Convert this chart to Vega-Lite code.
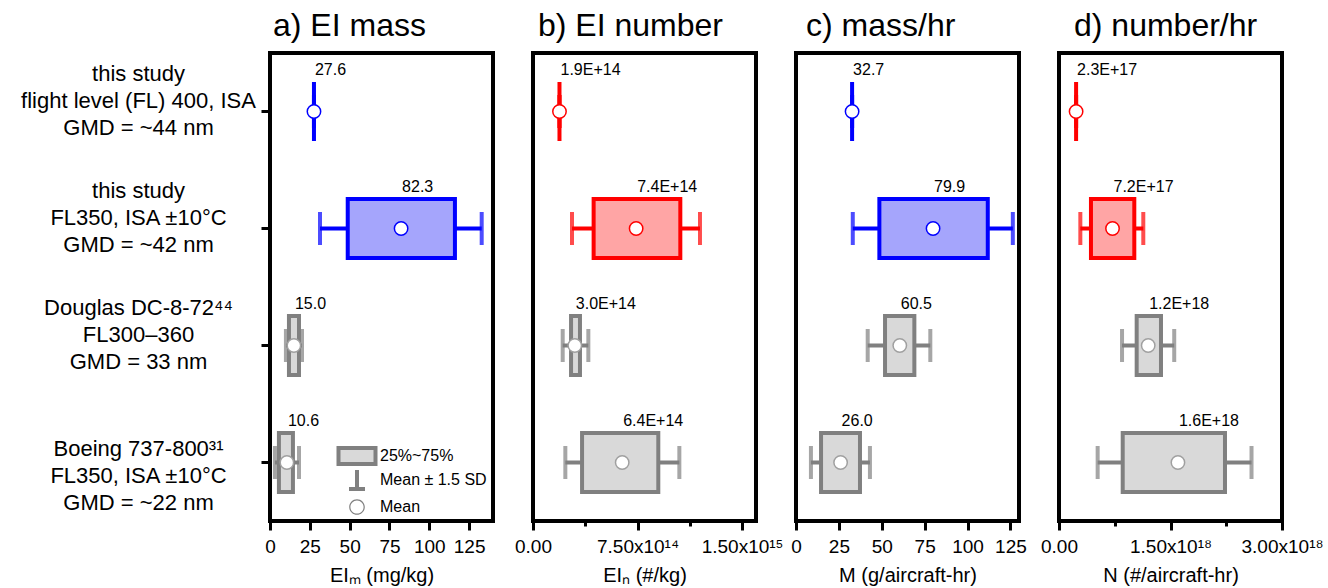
{
"$schema":"https://vega.github.io/schema/vega-lite/v6.json",
"background":"white",
"padding":{"left":18,"top":8,"right":0,"bottom":0},
"config":{
 "font":"Liberation Sans",
 "view":{"stroke":"black","strokeWidth":4},
 "axis":{"domain":false,"grid":false,"tickColor":"black","tickWidth":3,"tickSize":8,"labelColor":"black","titleColor":"black","labelFontSize":19,"titleFontSize":20,"titleFontWeight":"normal","labelFlush":false,"labelOverlap":false,"labelPadding":7,"titlePadding":9,"labelFont":"Liberation Sans","titleFont":"Liberation Sans"},
 "title":{"fontSize":32,"fontWeight":"normal","color":"black","anchor":"start","frame":"group","font":"Liberation Sans","offset":10}
},
"datasets":{
 "box":[
  {"panel":"a","row":"this study|flight level (FL) 400, ISA|GMD = ~44 nm","study":"this","mean":27.6,"q1":27.6,"q3":27.6,"lo":27.6,"hi":27.6,"label":"27.6"},
  {"panel":"a","row":"this study|FL350, ISA ±10°C|GMD = ~42 nm","study":"this","mean":82.3,"q1":48.8,"q3":116.1,"lo":31.4,"hi":132.9,"label":"82.3"},
  {"panel":"a","row":"Douglas DC-8-72⁴⁴|FL300–360|GMD =  33 nm","study":"lit","mean":15.0,"q1":11.9,"q3":18.2,"lo":10.0,"hi":20.1,"label":"15.0"},
  {"panel":"a","row":"Boeing 737-800³¹|FL350, ISA ±10°C|GMD =  ~22 nm","study":"lit","mean":10.6,"q1":5.6,"q3":14.4,"lo":3.1,"hi":18.2,"label":"10.6"},
  {"panel":"b","row":"this study|flight level (FL) 400, ISA|GMD = ~44 nm","study":"this","mean":1.9e14,"q1":1.9e14,"q3":1.9e14,"lo":1.9e14,"hi":1.9e14,"label":"1.9E+14"},
  {"panel":"b","row":"this study|FL350, ISA ±10°C|GMD = ~42 nm","study":"this","mean":7.4e14,"q1":4.35e14,"q3":10.57e14,"lo":2.8e14,"hi":11.98e14,"label":"7.4E+14"},
  {"panel":"b","row":"Douglas DC-8-72⁴⁴|FL300–360|GMD =  33 nm","study":"lit","mean":3.0e14,"q1":2.73e14,"q3":3.37e14,"lo":2.13e14,"hi":3.97e14,"label":"3.0E+14"},
  {"panel":"b","row":"Boeing 737-800³¹|FL350, ISA ±10°C|GMD =  ~22 nm","study":"lit","mean":6.4e14,"q1":3.52e14,"q3":8.99e14,"lo":2.32e14,"hi":10.5e14,"label":"6.4E+14"},
  {"panel":"c","row":"this study|flight level (FL) 400, ISA|GMD = ~44 nm","study":"this","mean":32.7,"q1":32.7,"q3":32.7,"lo":32.7,"hi":32.7,"label":"32.7"},
  {"panel":"c","row":"this study|FL350, ISA ±10°C|GMD = ~42 nm","study":"this","mean":79.9,"q1":48.6,"q3":111.8,"lo":33.1,"hi":126.4,"label":"79.9"},
  {"panel":"c","row":"Douglas DC-8-72⁴⁴|FL300–360|GMD =  33 nm","study":"lit","mean":60.5,"q1":51.9,"q3":69.0,"lo":41.8,"hi":78.3,"label":"60.5"},
  {"panel":"c","row":"Boeing 737-800³¹|FL350, ISA ±10°C|GMD =  ~22 nm","study":"lit","mean":26.0,"q1":14.6,"q3":37.3,"lo":8.7,"hi":43.1,"label":"26.0"},
  {"panel":"d","row":"this study|flight level (FL) 400, ISA|GMD = ~44 nm","study":"this","mean":2.3e17,"q1":2.3e17,"q3":2.3e17,"lo":2.3e17,"hi":2.3e17,"label":"2.3E+17"},
  {"panel":"d","row":"this study|FL350, ISA ±10°C|GMD = ~42 nm","study":"this","mean":7.2e17,"q1":4.3e17,"q3":10.13e17,"lo":2.87e17,"hi":11.34e17,"label":"7.2E+17"},
  {"panel":"d","row":"Douglas DC-8-72⁴⁴|FL300–360|GMD =  33 nm","study":"lit","mean":1.2e18,"q1":10.45e17,"q3":13.72e17,"lo":8.48e17,"hi":15.5e17,"label":"1.2E+18"},
  {"panel":"d","row":"Boeing 737-800³¹|FL350, ISA ±10°C|GMD =  ~22 nm","study":"lit","mean":1.6e18,"q1":8.57e17,"q3":22.33e17,"lo":5.2e17,"hi":25.9e17,"label":"1.6E+18"}
 ],
 "leg":[{"item":"25%~75%"},{"item":"Mean ± 1.5 SD"},{"item":"Mean"}]
},
"spacing":40,
"bounds":"flush",
"resolve":{"scale":{"x":"independent","y":"independent"},"axis":{"x":"independent","y":"independent"}},
"hconcat":[
 {
  "width":223,"height":468,
  "title":{"text":"a) EI mass","dx":3},
  "layer":[
   {"data":{"name":"box"},"transform":[{"filter":"datum.panel == 'a'"}],
    "mark":{"type":"rule","strokeWidth":4},
    "encoding":{
     "x":{"field":"lo","type":"quantitative","title":"EIₘ (mg/kg)","scale":{"domain":[0,140],"nice":false,"zero":false},
      "axis":{"values":[0,12.5,25,37.5,50,62.5,75,87.5,100,112.5,125,137.5],"labelExpr":"datum.value % 25 == 0 ? datum.label : ''","tickSize":{"condition":{"test":"datum.value % 25 == 0","value":9},"value":5}}},
     "x2":{"field":"hi"},
     "y":{"field":"row","type":"nominal","scale":{"domain":["this study|flight level (FL) 400, ISA|GMD = ~44 nm","this study|FL350, ISA ±10°C|GMD = ~42 nm","Douglas DC-8-72⁴⁴|FL300–360|GMD =  33 nm","Boeing 737-800³¹|FL350, ISA ±10°C|GMD =  ~22 nm"],"paddingInner":0,"paddingOuter":0},
      "axis":{"title":null,"labelExpr":"split(datum.value, '|')","labelAlign":"center","labelBaseline":"middle","labelPadding":123,"labelLineHeight":27,"labelFontSize":22,"labelLimit":0,"tickSize":9,"tickWidth":3,"labelOffset":{"condition":{"test":"indexof(datum.value, 'Boeing') >= 0","value":-14},"value":-38}}},
     "color":{"condition":{"test":"datum.study == 'this'","value":"#0000ff"},"value":"#808080"}}},
   {"data":{"name":"box"},"transform":[{"filter":"datum.panel == 'a'"}],
    "mark":{"type":"tick","size":33,"thickness":4},
    "encoding":{"x":{"field":"lo","type":"quantitative"},"y":{"field":"row","type":"nominal"},
     "color":{"condition":{"test":"datum.study == 'this'","value":"#0000ff"},"value":"#808080"}}},
   {"data":{"name":"box"},"transform":[{"filter":"datum.panel == 'a'"}],
    "mark":{"type":"tick","size":33,"thickness":4},
    "encoding":{"x":{"field":"hi","type":"quantitative"},"y":{"field":"row","type":"nominal"},
     "color":{"condition":{"test":"datum.study == 'this'","value":"#0000ff"},"value":"#808080"}}},
   {"data":{"name":"box"},"transform":[{"filter":"datum.panel == 'a'"}],
    "mark":{"type":"bar","size":59,"strokeWidth":4},
    "encoding":{"x":{"field":"q1","type":"quantitative"},"x2":{"field":"q3"},"y":{"field":"row","type":"nominal"},
     "fill":{"condition":{"test":"datum.study == 'this'","value":"#a5a5fc"},"value":"#d9d9d9"},
     "stroke":{"condition":{"test":"datum.study == 'this'","value":"#0000ff"},"value":"#808080"}}},
   {"data":{"name":"box"},"transform":[{"filter":"datum.panel == 'a'"}],
    "mark":{"type":"point","filled":true,"fill":"white","size":180,"strokeWidth":1.5,"opacity":1},
    "encoding":{"x":{"field":"mean","type":"quantitative"},"y":{"field":"row","type":"nominal"},
     "stroke":{"condition":{"test":"datum.study == 'this'","value":"#0000ff"},"value":"#a0a0a0"}}},
   {"data":{"name":"box"},"transform":[{"filter":"datum.panel == 'a'"}],
    "mark":{"type":"text","align":"left","baseline":"middle","dx":1,"dy":-42,"fontSize":16,"color":"black"},
    "encoding":{"x":{"field":"mean","type":"quantitative"},"y":{"field":"row","type":"nominal"},"text":{"field":"label"}}},
   {"data":{"name":"leg"},
    "mark":{"type":"point","opacity":0,"filled":true},
    "encoding":{
     "shape":{"field":"item","type":"nominal","scale":{"domain":["25%~75%","Mean ± 1.5 SD","Mean"],"range":["M-3.7,-1.6H3.7V1.6H-3.7Z","M-0.4,-2.0H0.4V1.4H1.6V2.2H-1.6V1.4H-0.4Z","M1.56,0A1.56,1.56,0,1,1,-1.56,0A1.56,1.56,0,1,1,1.56,0ZM1.32,0A1.32,1.32,0,1,0,-1.32,0A1.32,1.32,0,1,0,1.32,0Z"]},
      "legend":{"title":null,"orient":"none","legendX":79,"legendY":395,"labelFontSize":16,"labelColor":"black","labelFont":"Liberation Sans","symbolSize":100,"symbolStrokeWidth":4,"symbolOpacity":1,"labelOffset":15,"rowPadding":-18,"padding":0}},
     "fill":{"field":"item","type":"nominal","scale":{"domain":["25%~75%","Mean ± 1.5 SD","Mean"],"range":["#d9d9d9","#808080","#808080"]},
      "legend":{"title":null,"orient":"none","legendX":79,"legendY":395,"labelFontSize":16,"labelColor":"black","labelFont":"Liberation Sans","symbolSize":100,"symbolStrokeWidth":4,"symbolOpacity":1,"labelOffset":15,"rowPadding":-18,"padding":0}},
     "stroke":{"field":"item","type":"nominal","scale":{"domain":["25%~75%","Mean ± 1.5 SD","Mean"],"range":["#808080","transparent","transparent"]},
      "legend":{"title":null,"orient":"none","legendX":79,"legendY":395,"labelFontSize":16,"labelColor":"black","labelFont":"Liberation Sans","symbolSize":100,"symbolStrokeWidth":4,"symbolOpacity":1,"labelOffset":15,"rowPadding":-18,"padding":0}}
    }}
  ]
 },
 {
  "width":223,"height":468,
  "title":{"text":"b) EI number","dx":5},
  "data":{"name":"box"},
  "transform":[{"filter":"datum.panel == 'b'"}],
  "layer":[
   {"mark":{"type":"rule","strokeWidth":4},
    "encoding":{
     "x":{"field":"lo","type":"quantitative","title":"EIₙ (#/kg)","scale":{"domain":[0,1.6e15],"nice":false,"zero":false},
      "axis":{"values":[0,3.75e14,7.5e14,1.125e15,1.5e15],"labelExpr":"datum.value == 0 ? '0.00' : datum.value == 7.5e14 ? '7.50x10¹⁴' : datum.value == 1.5e15 ? '1.50x10¹⁵' : ''","tickSize":{"condition":{"test":"datum.value % 7.5e14 == 0","value":9},"value":5}}},
     "x2":{"field":"hi"},
     "y":{"field":"row","type":"nominal","scale":{"domain":["this study|flight level (FL) 400, ISA|GMD = ~44 nm","this study|FL350, ISA ±10°C|GMD = ~42 nm","Douglas DC-8-72⁴⁴|FL300–360|GMD =  33 nm","Boeing 737-800³¹|FL350, ISA ±10°C|GMD =  ~22 nm"],"paddingInner":0,"paddingOuter":0},"axis":null},
     "color":{"condition":{"test":"datum.study == 'this'","value":"#ff0000"},"value":"#808080"}}},
   {"mark":{"type":"tick","size":33,"thickness":4},
    "encoding":{"x":{"field":"lo","type":"quantitative"},"y":{"field":"row","type":"nominal"},
     "color":{"condition":{"test":"datum.study == 'this'","value":"#ff0000"},"value":"#808080"}}},
   {"mark":{"type":"tick","size":33,"thickness":4},
    "encoding":{"x":{"field":"hi","type":"quantitative"},"y":{"field":"row","type":"nominal"},
     "color":{"condition":{"test":"datum.study == 'this'","value":"#ff0000"},"value":"#808080"}}},
   {"mark":{"type":"bar","size":59,"strokeWidth":4},
    "encoding":{"x":{"field":"q1","type":"quantitative"},"x2":{"field":"q3"},"y":{"field":"row","type":"nominal"},
     "fill":{"condition":{"test":"datum.study == 'this'","value":"#ffa5a5"},"value":"#d9d9d9"},
     "stroke":{"condition":{"test":"datum.study == 'this'","value":"#ff0000"},"value":"#808080"}}},
   {"mark":{"type":"point","filled":true,"fill":"white","size":180,"strokeWidth":1.5,"opacity":1},
    "encoding":{"x":{"field":"mean","type":"quantitative"},"y":{"field":"row","type":"nominal"},
     "stroke":{"condition":{"test":"datum.study == 'this'","value":"#ff0000"},"value":"#a0a0a0"}}},
   {"mark":{"type":"text","align":"left","baseline":"middle","dx":1,"dy":-42,"fontSize":16,"color":"black"},
    "encoding":{"x":{"field":"mean","type":"quantitative"},"y":{"field":"row","type":"nominal"},"text":{"field":"label"}}}
  ]
 },
 {
  "width":223,"height":468,
  "title":{"text":"c) mass/hr","dx":10},
  "data":{"name":"box"},
  "transform":[{"filter":"datum.panel == 'c'"}],
  "layer":[
   {"mark":{"type":"rule","strokeWidth":4},
    "encoding":{
     "x":{"field":"lo","type":"quantitative","title":"M (g/aircraft-hr)","scale":{"domain":[0,130],"nice":false,"zero":false},
      "axis":{"values":[0,12.5,25,37.5,50,62.5,75,87.5,100,112.5,125],"labelExpr":"datum.value % 25 == 0 ? datum.label : ''","tickSize":{"condition":{"test":"datum.value % 25 == 0","value":9},"value":5}}},
     "x2":{"field":"hi"},
     "y":{"field":"row","type":"nominal","scale":{"domain":["this study|flight level (FL) 400, ISA|GMD = ~44 nm","this study|FL350, ISA ±10°C|GMD = ~42 nm","Douglas DC-8-72⁴⁴|FL300–360|GMD =  33 nm","Boeing 737-800³¹|FL350, ISA ±10°C|GMD =  ~22 nm"],"paddingInner":0,"paddingOuter":0},"axis":null},
     "color":{"condition":{"test":"datum.study == 'this'","value":"#0000ff"},"value":"#808080"}}},
   {"mark":{"type":"tick","size":33,"thickness":4},
    "encoding":{"x":{"field":"lo","type":"quantitative"},"y":{"field":"row","type":"nominal"},
     "color":{"condition":{"test":"datum.study == 'this'","value":"#0000ff"},"value":"#808080"}}},
   {"mark":{"type":"tick","size":33,"thickness":4},
    "encoding":{"x":{"field":"hi","type":"quantitative"},"y":{"field":"row","type":"nominal"},
     "color":{"condition":{"test":"datum.study == 'this'","value":"#0000ff"},"value":"#808080"}}},
   {"mark":{"type":"bar","size":59,"strokeWidth":4},
    "encoding":{"x":{"field":"q1","type":"quantitative"},"x2":{"field":"q3"},"y":{"field":"row","type":"nominal"},
     "fill":{"condition":{"test":"datum.study == 'this'","value":"#a5a5fc"},"value":"#d9d9d9"},
     "stroke":{"condition":{"test":"datum.study == 'this'","value":"#0000ff"},"value":"#808080"}}},
   {"mark":{"type":"point","filled":true,"fill":"white","size":180,"strokeWidth":1.5,"opacity":1},
    "encoding":{"x":{"field":"mean","type":"quantitative"},"y":{"field":"row","type":"nominal"},
     "stroke":{"condition":{"test":"datum.study == 'this'","value":"#0000ff"},"value":"#a0a0a0"}}},
   {"mark":{"type":"text","align":"left","baseline":"middle","dx":1,"dy":-42,"fontSize":16,"color":"black"},
    "encoding":{"x":{"field":"mean","type":"quantitative"},"y":{"field":"row","type":"nominal"},"text":{"field":"label"}}}
  ]
 },
 {
  "width":223,"height":468,
  "title":{"text":"d) number/hr","dx":15},
  "data":{"name":"box"},
  "transform":[{"filter":"datum.panel == 'd'"}],
  "layer":[
   {"mark":{"type":"rule","strokeWidth":4},
    "encoding":{
     "x":{"field":"lo","type":"quantitative","title":"N (#/aircraft-hr)","scale":{"domain":[0,3e18],"nice":false,"zero":false},
      "axis":{"values":[0,7.5e17,1.5e18,2.25e18,3e18],"labelExpr":"datum.value == 0 ? '0.00' : datum.value == 1.5e18 ? '1.50x10¹⁸' : datum.value == 3e18 ? '3.00x10¹⁸' : ''","tickSize":{"condition":{"test":"datum.value % 1.5e18 == 0","value":9},"value":5}}},
     "x2":{"field":"hi"},
     "y":{"field":"row","type":"nominal","scale":{"domain":["this study|flight level (FL) 400, ISA|GMD = ~44 nm","this study|FL350, ISA ±10°C|GMD = ~42 nm","Douglas DC-8-72⁴⁴|FL300–360|GMD =  33 nm","Boeing 737-800³¹|FL350, ISA ±10°C|GMD =  ~22 nm"],"paddingInner":0,"paddingOuter":0},"axis":null},
     "color":{"condition":{"test":"datum.study == 'this'","value":"#ff0000"},"value":"#808080"}}},
   {"mark":{"type":"tick","size":33,"thickness":4},
    "encoding":{"x":{"field":"lo","type":"quantitative"},"y":{"field":"row","type":"nominal"},
     "color":{"condition":{"test":"datum.study == 'this'","value":"#ff0000"},"value":"#808080"}}},
   {"mark":{"type":"tick","size":33,"thickness":4},
    "encoding":{"x":{"field":"hi","type":"quantitative"},"y":{"field":"row","type":"nominal"},
     "color":{"condition":{"test":"datum.study == 'this'","value":"#ff0000"},"value":"#808080"}}},
   {"mark":{"type":"bar","size":59,"strokeWidth":4},
    "encoding":{"x":{"field":"q1","type":"quantitative"},"x2":{"field":"q3"},"y":{"field":"row","type":"nominal"},
     "fill":{"condition":{"test":"datum.study == 'this'","value":"#ffa5a5"},"value":"#d9d9d9"},
     "stroke":{"condition":{"test":"datum.study == 'this'","value":"#ff0000"},"value":"#808080"}}},
   {"mark":{"type":"point","filled":true,"fill":"white","size":180,"strokeWidth":1.5,"opacity":1},
    "encoding":{"x":{"field":"mean","type":"quantitative"},"y":{"field":"row","type":"nominal"},
     "stroke":{"condition":{"test":"datum.study == 'this'","value":"#ff0000"},"value":"#a0a0a0"}}},
   {"mark":{"type":"text","align":"left","baseline":"middle","dx":1,"dy":-42,"fontSize":16,"color":"black"},
    "encoding":{"x":{"field":"mean","type":"quantitative"},"y":{"field":"row","type":"nominal"},"text":{"field":"label"}}}
  ]
 }
]
}
